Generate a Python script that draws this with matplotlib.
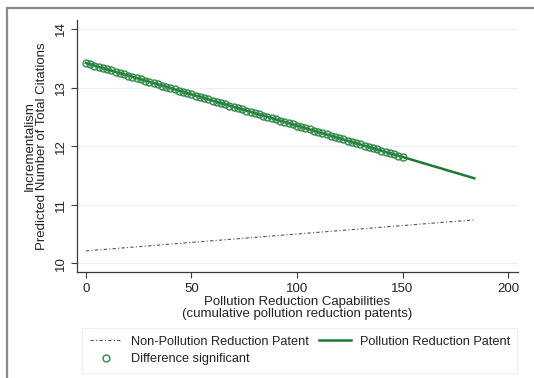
import matplotlib as mpl
mpl.use('Agg')
import matplotlib.pyplot as plt
from matplotlib.lines import Line2D

mpl.rcParams.update({'font.family': ['Liberation Sans', 'DejaVu Sans'], 'font.size': 9.5})

GRN = '#1c7a32'
SIGC = '#2f8a48'
INK = '#3a3a3a'

# predicted margins at the ends of the capability range
non_x = [0, 184]
non_y = [10.21, 10.74]
pr_x = [0, 184]
pr_y = [13.42, 11.45]

# capability levels where the two predictions differ significantly
sig_x = [0, 2, 4, 6, 8, 10, 12, 14, 16, 18, 20, 22, 24, 26, 28, 30, 32, 34, 36, 38,
         40, 42, 44, 46, 48, 50, 52, 54, 56, 58, 60, 62, 64, 66, 68, 70, 72, 74, 76, 78,
         80, 82, 84, 86, 88, 90, 92, 94, 96, 98, 100, 102, 104, 106, 108, 110, 112, 114,
         116, 118, 120, 122, 124, 126, 128, 130, 132, 134, 136, 138, 140, 142, 144, 146,
         148, 150]
sig_y = [13.420, 13.399, 13.377, 13.356, 13.334, 13.313, 13.292, 13.270, 13.249, 13.227,
         13.206, 13.184, 13.163, 13.142, 13.120, 13.099, 13.077, 13.056, 13.035, 13.013,
         12.992, 12.970, 12.949, 12.927, 12.906, 12.885, 12.863, 12.842, 12.820, 12.799,
         12.778, 12.756, 12.735, 12.713, 12.692, 12.670, 12.649, 12.628, 12.606, 12.585,
         12.563, 12.542, 12.521, 12.499, 12.478, 12.456, 12.435, 12.414, 12.392, 12.371,
         12.349, 12.328, 12.306, 12.285, 12.264, 12.242, 12.221, 12.199, 12.178, 12.157,
         12.135, 12.114, 12.092, 12.071, 12.050, 12.028, 12.007, 11.985, 11.964, 11.942,
         11.921, 11.900, 11.878, 11.857, 11.835, 11.814]

xticks = [0, 50, 100, 150, 200]
yticks = [10, 11, 12, 13, 14]

fig = plt.figure(figsize=(5.34, 3.78), dpi=100)
ax = fig.add_axes([0.144, 0.280, 0.826, 0.667])

for t in yticks:
    ax.axhline(t, color='#eaf1f1', lw=0.8, zorder=0)

h_non, = ax.plot(non_x, non_y, color='#555555', lw=0.8, dashes=(3, 2, 1, 2),
                 label='Non-Pollution Reduction Patent')
h_pr, = ax.plot(pr_x, pr_y, color=GRN, lw=1.8, label='Pollution Reduction Patent')
h_sig, = ax.plot(sig_x, sig_y, ls='none', marker='o', ms=5.0, mfc='none', mec=SIGC,
                 mew=1.0, label='Difference significant')

ax.set_xlim(-4.3, 204.7)
ax.set_ylim(9.846, 14.154)
ax.set_xticks(xticks)
ax.set_yticks(yticks)
ax.tick_params(direction='out', length=4, width=0.8, colors=INK, labelcolor='#222222',
               labelsize=9.5)
ax.tick_params(axis='y', labelrotation=90)
for lab in ax.get_yticklabels():
    lab.set_va('center')
for s in ['top', 'right']:
    ax.spines[s].set_visible(False)
for s in ['left', 'bottom']:
    ax.spines[s].set_color(INK)
    ax.spines[s].set_linewidth(0.9)

ax.set_xlabel('Pollution Reduction Capabilities\n(cumulative pollution reduction patents)',
              color='#222222', linespacing=1.0, labelpad=1)
ax.set_ylabel('Incrementalism\nPredicted Number of Total Citations', color='#222222',
              linespacing=1.0, labelpad=5)

leg = fig.legend(handles=[h_non, h_sig, h_pr], ncol=2, loc='upper left',
                 bbox_to_anchor=(82 / 534, 1 - 328 / 378), borderaxespad=0,
                 frameon=True, fancybox=False, edgecolor='#e6eded', fontsize=9.2,
                 handlelength=2.5, handletextpad=0.7, columnspacing=0.8,
                 borderpad=0.6, labelspacing=0.45)
leg.get_frame().set_linewidth(0.8)
for txt in leg.get_texts():
    txt.set_color('#222222')

# outer frame on the top and left edges
fig.add_artist(Line2D([7 / 534, 1.0], [1 - 8 / 378] * 2, color='#8a8a8a', lw=1.6))
fig.add_artist(Line2D([7 / 534] * 2, [0.0, 1 - 8 / 378], color='#8a8a8a', lw=1.6))

fig.savefig('out.png', dpi=100)
